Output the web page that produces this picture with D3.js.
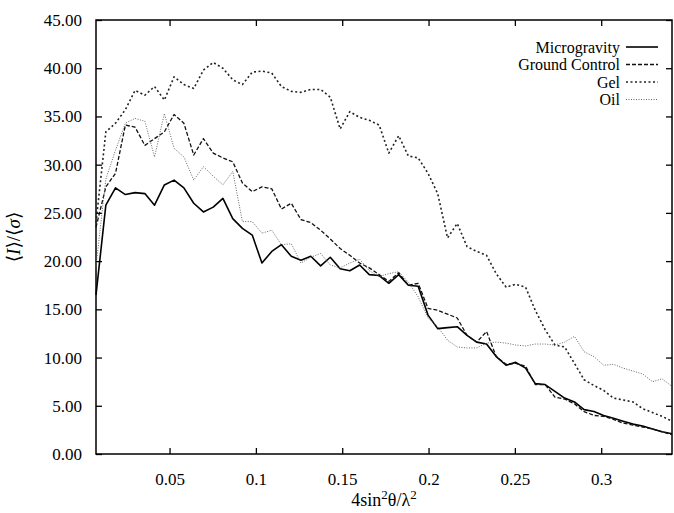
<!DOCTYPE html>
<html>
<head>
<meta charset="utf-8">
<script src="https://cdn.jsdelivr.net/npm/d3@7"></script>
<style>
  body { margin: 0; background: #fff; }
  svg text { font-family: "Liberation Serif", "Times New Roman", Tinos, "DejaVu Serif", serif; }
</style>
</head>
<body>
<div id="chart"></div>
<script>
// resolution bins, 4 sin^2(theta) / lambda^2
const q = [0.0074, 0.0131, 0.0187, 0.0244, 0.0300, 0.0357, 0.0413, 0.0470, 0.0526, 0.0583,
           0.0640, 0.0696, 0.0753, 0.0809, 0.0866, 0.0922, 0.0979, 0.1035, 0.1092, 0.1148,
           0.1205, 0.1261, 0.1318, 0.1375, 0.1431, 0.1488, 0.1544, 0.1601, 0.1657, 0.1714,
           0.1770, 0.1827, 0.1883, 0.1940, 0.1997, 0.2053, 0.2110, 0.2166, 0.2223, 0.2279,
           0.2336, 0.2392, 0.2449, 0.2505, 0.2562, 0.2618, 0.2675, 0.2732, 0.2788, 0.2845,
           0.2901, 0.2958, 0.3014, 0.3071, 0.3127, 0.3184, 0.3240, 0.3297, 0.3353, 0.3410];

const microgravity = [16.5, 25.8, 27.6, 26.9, 27.1, 27.0, 25.8, 27.9, 28.4, 27.6,
                      26.0, 25.1, 25.6, 26.5, 24.4, 23.4, 22.7, 19.8, 21.0, 21.7,
                      20.5, 20.1, 20.5, 19.5, 20.4, 19.2, 19.0, 19.6, 18.6, 18.5,
                      17.7, 18.6, 17.5, 17.4, 14.4, 13.0, 13.1, 13.2, 12.3, 11.6,
                      11.4, 10.1, 9.2, 9.5, 8.9, 7.3, 7.2, 6.5, 5.8, 5.4,
                      4.6, 4.4, 4.0, 3.7, 3.4, 3.1, 2.9, 2.6, 2.3, 2.1];

const groundControl = [23.5, 27.7, 29.1, 34.1, 33.9, 32.0, 32.7, 33.4, 35.2, 34.3,
                       31.0, 32.7, 31.2, 30.7, 30.3, 28.1, 27.2, 27.7, 27.5, 25.4,
                       26.0, 24.3, 24.0, 23.2, 22.3, 21.3, 20.6, 19.8, 19.3, 18.6,
                       17.9, 18.8, 17.5, 17.7, 15.1, 14.9, 14.5, 14.1, 12.3, 11.6,
                       12.7, 10.1, 9.3, 9.4, 9.1, 7.2, 7.2, 5.9, 5.7, 5.2,
                       4.4, 4.0, 3.9, 3.6, 3.2, 3.0, 2.8, 2.6, 2.3, 2.0];

const gel = [24.0, 33.4, 34.3, 35.7, 37.7, 37.2, 38.1, 36.7, 39.1, 38.3,
             37.9, 39.8, 40.6, 40.0, 38.8, 38.3, 39.6, 39.7, 39.5, 38.1,
             37.6, 37.5, 37.8, 37.8, 37.0, 33.7, 35.5, 34.9, 34.6, 34.1,
             31.2, 33.0, 30.9, 30.7, 29.1, 27.0, 22.4, 23.9, 21.5, 21.0,
             20.6, 18.7, 17.3, 17.6, 17.3, 14.9, 12.9, 11.3, 11.1, 9.4,
             7.7, 7.1, 6.6, 5.8, 5.6, 5.4, 4.7, 4.3, 3.9, 3.4];

const oil = [19.5, 28.5, 31.5, 34.3, 34.8, 34.5, 30.8, 35.3, 31.7, 30.8,
             28.4, 29.8, 28.8, 27.9, 29.3, 24.1, 24.1, 22.9, 23.2, 21.7,
             21.8, 19.8, 20.4, 20.8, 19.6, 19.3, 19.8, 20.2, 19.0, 18.4,
             18.7, 18.9, 17.8, 16.3, 14.1, 13.2, 11.8, 11.1, 11.0, 11.0,
             11.5, 11.6, 11.5, 11.3, 11.2, 11.4, 11.4, 11.3, 11.6, 12.2,
             10.6, 10.1, 9.2, 9.3, 8.9, 8.6, 8.3, 7.5, 7.8, 7.0];

const seriesNames = ["Microgravity", "Ground Control", "Gel", "Oil"];
const xTicks = [0.05, 0.1, 0.15, 0.2, 0.25, 0.3];
const yTicks = [0, 5, 10, 15, 20, 25, 30, 35, 40, 45];

const styles = [
  { stroke: "#000", width: 1.6, dash: null },
  { stroke: "#111", width: 1.3, dash: "4,2" },
  { stroke: "#222", width: 1.6, dash: "2,2.5" },
  { stroke: "#666", width: 1.0, dash: "1,1.5" }
];

const serif = "'Liberation Serif', 'Times New Roman', Tinos, 'DejaVu Serif', serif";

const margin = { top: 20, right: 2, bottom: 59, left: 96 },
    width = 674 - margin.left - margin.right,
    height = 513 - margin.top - margin.bottom;

const svg = d3.select("#chart")
  .append("svg")
  .attr("width", 674)
  .attr("height", 513)
  .append("g")
  .attr("transform", "translate(" + margin.left + "," + margin.top + ")");

const x = d3.scaleLinear().domain([q[0], q[q.length - 1]]).range([0, width]);
const y = d3.scaleLinear().domain([0, 45]).range([height, 0]);

// axes, ticks pointing inward on all four sides
svg.append("g")
  .attr("transform", "translate(0," + height + ")")
  .call(d3.axisBottom(x).tickValues(xTicks).tickSize(-6).tickPadding(19).tickFormat(d3.format("")));
svg.append("g")
  .call(d3.axisTop(x).tickValues(xTicks).tickSize(-6).tickFormat(""));
svg.append("g")
  .call(d3.axisLeft(y).tickValues(yTicks).tickSize(-6).tickPadding(14).tickFormat(d3.format(".2f")));
svg.append("g")
  .attr("transform", "translate(" + width + ",0)")
  .call(d3.axisRight(y).tickValues(yTicks).tickSize(-6).tickFormat(""));

svg.selectAll(".domain").remove();
svg.selectAll(".tick line").attr("stroke", "#000").attr("stroke-width", 1.3);
svg.selectAll(".tick text").attr("font-size", "17px").attr("fill", "#000")
   .style("font-family", serif);

svg.append("rect")
  .attr("width", width)
  .attr("height", height)
  .attr("fill", "none")
  .attr("stroke", "#000")
  .attr("stroke-width", 1.5);

// curves
const allSeries = [microgravity, groundControl, gel, oil];
const line = d3.line()
  .x(function(d) { return x(d[0]); })
  .y(function(d) { return y(d[1]); });

allSeries.forEach(function(vals, i) {
  svg.append("path")
    .datum(q.map(function(v, k) { return [v, vals[k]]; }))
    .attr("fill", "none")
    .attr("stroke", styles[i].stroke)
    .attr("stroke-width", styles[i].width)
    .attr("stroke-dasharray", styles[i].dash)
    .attr("stroke-linejoin", "round")
    .attr("d", line);
});

// legend
const legend = svg.append("g").attr("transform", "translate(" + (width - 52) + ",27)");
seriesNames.forEach(function(name, i) {
  const row = legend.append("g").attr("transform", "translate(0," + (i * 17.5) + ")");
  row.append("text")
    .attr("x", 0)
    .attr("y", 5.5)
    .attr("text-anchor", "end")
    .attr("font-size", "16px")
    .style("font-family", serif)
    .text(name);
  row.append("line")
    .attr("x1", 6).attr("x2", 38)
    .attr("y1", 0).attr("y2", 0)
    .attr("stroke", styles[i].stroke)
    .attr("stroke-width", styles[i].width)
    .attr("stroke-dasharray", styles[i].dash);
});

// axis titles
const xt = svg.append("text")
  .attr("x", width / 2)
  .attr("y", height + 52)
  .attr("text-anchor", "middle")
  .attr("font-size", "18px")
  .style("font-family", serif);
xt.append("tspan").text("4sin");
xt.append("tspan").attr("dy", -7).attr("font-size", "13px").text("2");
xt.append("tspan").attr("dy", 7).text("θ/λ");
xt.append("tspan").attr("dy", -7).attr("font-size", "13px").text("2");

const yt = svg.append("text")
  .attr("transform", "translate(" + (-76) + "," + (height / 2) + ") rotate(-90)")
  .attr("text-anchor", "middle")
  .attr("font-size", "19px")
  .style("font-family", serif);
yt.append("tspan").text("⟨");
yt.append("tspan").attr("font-style", "italic").text("I");
yt.append("tspan").text("⟩/⟨");
yt.append("tspan").attr("font-style", "italic").text("σ");
yt.append("tspan").text("⟩");
</script>
</body>
</html>
